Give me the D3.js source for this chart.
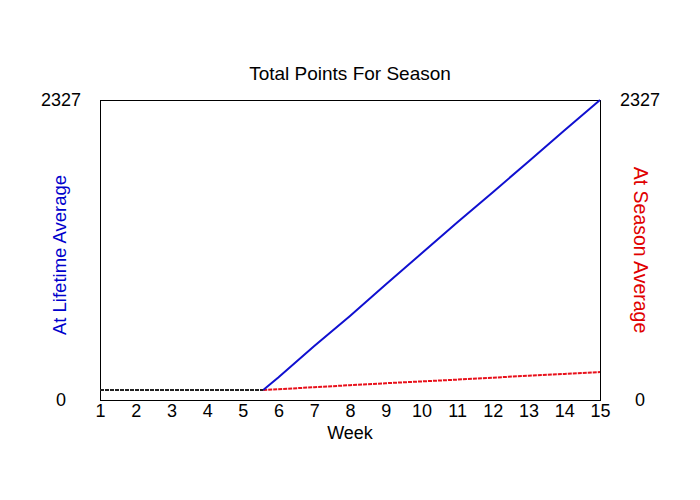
<!DOCTYPE html>
<html>
<head>
<meta charset="utf-8">
<script src="https://cdn.jsdelivr.net/npm/d3@7"></script>
<style>
  body { margin: 0; background: #fff; }
  text { font-family: "Liberation Sans", Arial, sans-serif; }
</style>
</head>
<body>
<svg id="chart" width="700" height="500"></svg>
<script>
// Data
const weeks = d3.range(1, 16);
const yMax = 2327;

// flat part before the season started (week 5, day 4)
const baseline = [
  { week: 1, pts: 78 },
  { week: 5.57, pts: 78 }
];

const lifetime = [
  { week: 5.57, pts: 78 },
  { week: 6, pts: 176 },
  { week: 7, pts: 418 },
  { week: 8, pts: 652 },
  { week: 9, pts: 896 },
  { week: 10, pts: 1136 },
  { week: 11, pts: 1376 },
  { week: 12, pts: 1612 },
  { week: 13, pts: 1850 },
  { week: 14, pts: 2090 },
  { week: 15, pts: 2327 }
];

const season = [
  { week: 5.57, pts: 78 },
  { week: 6, pts: 84 },
  { week: 7, pts: 99 },
  { week: 8, pts: 115 },
  { week: 9, pts: 130 },
  { week: 10, pts: 144 },
  { week: 11, pts: 158 },
  { week: 12, pts: 173 },
  { week: 13, pts: 189 },
  { week: 14, pts: 202 },
  { week: 15, pts: 217 }
];

const svg = d3.select("#chart");
const margin = { top: 100, right: 100, bottom: 100, left: 100 };
const width = 700 - margin.left - margin.right;
const height = 500 - margin.top - margin.bottom;

const x = d3.scaleLinear().domain([1, 15]).range([margin.left, margin.left + width]);
const y = d3.scaleLinear().domain([0, yMax]).range([margin.top + height, margin.top]);

// frame
svg.append("rect")
  .attr("x", margin.left + 0.5)
  .attr("y", margin.top + 0.5)
  .attr("width", width)
  .attr("height", height)
  .attr("fill", "none")
  .attr("stroke", "#000")
  .attr("stroke-width", 1);

// x axis labels
const xAxis = d3.axisBottom(x).tickValues(weeks).tickSize(0).tickPadding(4);
const xAxisGroup = svg.append("g")
  .attr("transform", `translate(0, ${margin.top + height})`)
  .call(xAxis);
xAxisGroup.select(".domain").remove();
xAxisGroup.selectAll("text")
  .attr("font-size", 18)
  .attr("fill", "#000")
  .style("font-family", "Liberation Sans, Arial, sans-serif");

// y extreme labels on both sides
[0, yMax].forEach(v => {
  svg.append("text")
    .attr("x", 61)
    .attr("y", y(v))
    .attr("dy", "0.35em")
    .attr("text-anchor", "middle")
    .attr("font-size", 18)
    .text(v);
  svg.append("text")
    .attr("x", 640)
    .attr("y", y(v))
    .attr("dy", "0.35em")
    .attr("text-anchor", "middle")
    .attr("font-size", 18)
    .text(v);
});

// title
svg.append("text")
  .attr("x", 350)
  .attr("y", 80)
  .attr("text-anchor", "middle")
  .attr("font-size", 19)
  .text("Total Points For Season");

// x axis title
svg.append("text")
  .attr("x", 350)
  .attr("y", 439)
  .attr("text-anchor", "middle")
  .attr("font-size", 18)
  .text("Week");

// axis titles
svg.append("text")
  .attr("transform", `translate(66, 255) rotate(-90)`)
  .attr("text-anchor", "middle")
  .attr("font-size", 18.5)
  .attr("fill", "#0000cc")
  .text("At Lifetime Average");

svg.append("text")
  .attr("transform", `translate(634, 250) rotate(90)`)
  .attr("text-anchor", "middle")
  .attr("font-size", 19.5)
  .attr("fill", "#e00000")
  .text("At Season Average");

// lines
const line = d3.line().x(d => x(d.week)).y(d => y(d.pts));

svg.append("path")
  .datum(season)
  .attr("d", line)
  .attr("fill", "none")
  .attr("stroke", "#e8101a")
  .attr("stroke-width", 2)
  .attr("stroke-dasharray", "4,1");

svg.append("path")
  .datum(lifetime)
  .attr("d", line)
  .attr("fill", "none")
  .attr("stroke", "#1010d0")
  .attr("stroke-width", 2);

svg.append("path")
  .datum(baseline)
  .attr("d", line)
  .attr("fill", "none")
  .attr("stroke", "#222")
  .attr("stroke-width", 2)
  .attr("stroke-dasharray", "4,1");
</script>
</body>
</html>
